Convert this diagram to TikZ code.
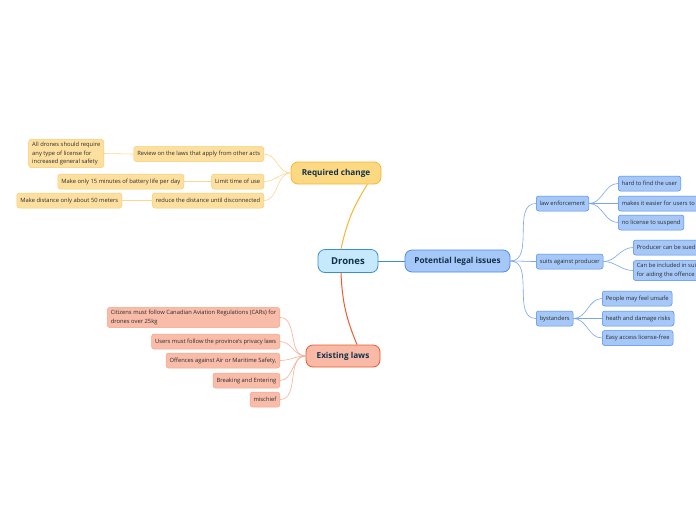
\documentclass[tikz,border=0pt]{standalone}
\usepackage{fontspec}
\setmainfont{Open Sans}
\usepackage{xcolor}
\usepackage{tikz}
\definecolor{navy}{HTML}{12304A}
\definecolor{ink}{HTML}{2B2B2B}
\definecolor{rootfill}{HTML}{C6E9FB}
\definecolor{rootline}{HTML}{3A8FD3}
\definecolor{bluefill}{HTML}{A6C8F8}
\definecolor{blueline}{HTML}{4F8BE6}
\definecolor{bluelink}{HTML}{77A6EC}
\definecolor{orfill}{HTML}{FDD882}
\definecolor{orline}{HTML}{F8B62E}
\definecolor{orleaf}{HTML}{FDE0A0}
\definecolor{orlink}{HTML}{FCD68E}
\definecolor{redfill}{HTML}{F8BAA6}
\definecolor{redline}{HTML}{EE5B2D}
\definecolor{redleaf}{HTML}{F8BCA9}
\definecolor{redlink}{HTML}{F7AE98}
\tikzset{
  topic/.style={rounded corners=7pt, line width=0.8pt, minimum height=22pt,
    inner xsep=6pt, text=navy, font={\fontsize{8.2}{10}\selectfont\bfseries}},
  leaf/.style={rounded corners=2.5pt, line width=0.5pt, minimum height=15pt,
    inner xsep=3.5pt, inner ysep=2pt, align=left, text=ink,
    font={\fontsize{5.8}{8.2}\selectfont}},
  orleafbox/.style={leaf, fill=orleaf, draw=orline!70},
  redleafbox/.style={leaf, fill=redleaf, draw=redline!55},
  blueleafbox/.style={leaf, fill=bluefill, draw=blueline},
  orwire/.style={draw=orlink, line width=0.6pt},
  redwire/.style={draw=redlink, line width=0.6pt},
  bluewire/.style={draw=bluelink, line width=0.6pt},
}
\begin{document}
\begin{tikzpicture}[x=1pt,y=-1pt]
\useasboundingbox (0,0) rectangle (696,520);
\clip (0,0) rectangle (696,520);
% central topic and main branches
\node[topic, fill=rootfill, draw=rootline, minimum width=60pt, minimum height=23pt,
      font={\fontsize{9.5}{11}\selectfont\bfseries}] (drones) at (348,261) {Drones};
\node[topic, fill=bluefill, draw=blueline, minimum width=105pt] (legal) at (457.5,261) {Potential legal issues};
\node[topic, fill=orfill, draw=orline, minimum width=90pt] (change) at (336,173) {Required change};
\node[topic, fill=redfill, draw=redline, minimum width=74pt] (laws) at (343,356) {Existing laws};
\draw[draw=rootline, line width=1pt] (drones.east) -- (legal.west);
\draw[draw=orline, line width=1pt] ([xshift=-7pt]drones.north)
  to[bend left=10] ([xshift=-14pt]change.south east);
\draw[draw=redline, line width=1pt] ([xshift=-7pt]drones.south)
  to[bend right=10] ([xshift=14pt]laws.north);

% required change
\node[orleafbox, anchor=east] (review) at (264,154) {Review on the laws that apply from other acts};
\node[orleafbox, anchor=east] (limit) at (264,181.5) {Limit time of use};
\node[orleafbox, anchor=east] (reduce) at (264,200.5) {reduce the distance until disconnected};
\node[orleafbox, anchor=east, inner ysep=3pt] (license) at (104,153.5)
  {All drones should require\\any type of license for\\increased general safety};
\node[orleafbox, anchor=east] (battery) at (184,181.5) {Make only 15 minutes of battery life per day};
\node[orleafbox, anchor=east] (meters) at (122,200.5) {Make distance only about 50 meters};
\foreach \k in {review,limit,reduce}
  \draw[orwire] (change.west) to[out=180,in=0] (\k.east);
\draw[orwire] (review.west) -- (license.east);
\draw[orwire] (limit.west) -- (battery.east);
\draw[orwire] (reduce.west) -- (meters.east);

% existing laws
\node[redleafbox, anchor=east, inner ysep=3pt] (cars) at (280,317.5)
  {Citizens must follow Canadian Aviation Regulations (CARs) for\\drones over 25kg};
\node[redleafbox, anchor=east] (privacy) at (280,341.5) {Users must follow the province's privacy laws};
\node[redleafbox, anchor=east] (offence) at (280,360.5) {Offences against Air or Maritime Safety,};
\node[redleafbox, anchor=east] (breaking) at (280,380.5) {Breaking and Entering};
\node[redleafbox, anchor=east] (mischief) at (280,399.5) {mischief};
\foreach \k in {cars,privacy,offence,breaking,mischief}
  \draw[redwire] (laws.west) to[out=180,in=0] (\k.east);

% potential legal issues
\node[blueleafbox, anchor=west] (enforce) at (536,203.5) {law enforcement};
\node[blueleafbox, anchor=west] (suits) at (536,261.5) {suits against producer};
\node[blueleafbox, anchor=west] (bystand) at (536,318.5) {bystanders};
\foreach \k in {enforce,suits,bystand}
  \draw[bluewire] (legal.east) to[out=0,in=180] (\k.west);

\node[blueleafbox, anchor=west] (hard) at (618,183.5) {hard to find the user};
\node[blueleafbox, anchor=west] (easier) at (618,203.5) {makes it easier for users to};
\node[blueleafbox, anchor=west] (suspend) at (618,222.5) {no license to suspend};
\foreach \k in {hard,easier,suspend}
  \draw[bluewire] (enforce.east) to[out=0,in=180] (\k.west);

\node[blueleafbox, anchor=west] (sued) at (633,247.5) {Producer can be sued};
\node[blueleafbox, anchor=west, inner ysep=3pt] (aiding) at (633,270.5)
  {Can be included in suits\\for aiding the offence};
\foreach \k in {sued,aiding}
  \draw[bluewire] (suits.east) to[out=0,in=180] (\k.west);

\node[blueleafbox, anchor=west] (unsafe) at (602,298.5) {People may feel unsafe};
\node[blueleafbox, anchor=west] (risks) at (602,318.5) {heath and damage risks};
\node[blueleafbox, anchor=west] (access) at (602,338) {Easy access license-free};
\foreach \k in {unsafe,risks,access}
  \draw[bluewire] (bystand.east) to[out=0,in=180] (\k.west);
\end{tikzpicture}
\end{document}
